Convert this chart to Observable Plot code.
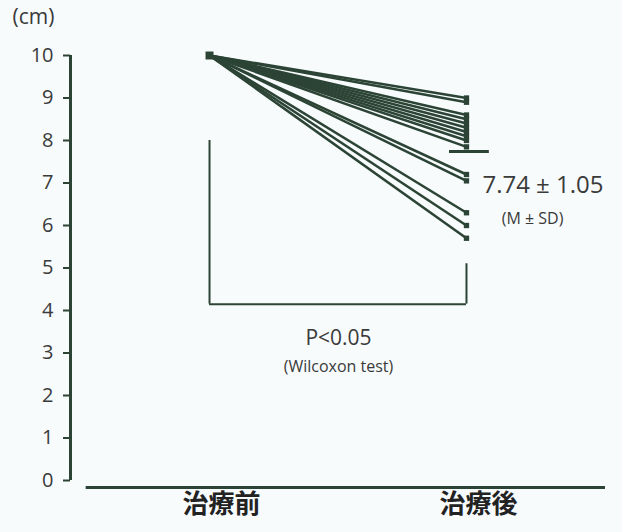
<!DOCTYPE html>
<html><head><meta charset="utf-8">
<script src="https://cdn.jsdelivr.net/npm/d3@7"></script>
<script src="https://cdn.jsdelivr.net/npm/@observablehq/plot@0.6"></script>
<style>
body{margin:0;background:#f7fbfc;}
#chart{position:relative;width:622px;height:532px;}
</style></head>
<body><div id="chart"></div>
<script>
const phases = ["治療前", "治療後"];
const before = [10,10,10,10,10,10,10,10,10,10,10,10,10,10,10];
const after = [9.0, 8.9, 8.6, 8.5, 8.4, 8.3, 8.2, 8.1, 8.0, 7.85, 7.2, 7.05, 6.3, 6.0, 5.7];
const yTicks = [0,1,2,3,4,5,6,7,8,9,10];
const meanValue = 7.74;
const sdValue = 1.05;
const pText = "P<0.05";
const testText = "(Wilcoxon test)";
const unitText = "(cm)";
const statsText = "(M ± SD)";

const pairs = after.map((a, i) => ({id: i, before: before[i], after: a}));
const ink = "#2c4435";
const textColor = "#3a3a3a";
const latin = "'Open Sans', 'Noto Sans', sans-serif";

const chart = Plot.plot({
  width: 622, height: 532,
  marginLeft: 70, marginRight: 17, marginTop: 55, marginBottom: 52,
  style: {background: "transparent", fontFamily: latin},
  x: {domain: [-0.541, 1.541], axis: null},
  y: {domain: [0, 10], ticks: yTicks},
  marks: [
    Plot.axisY({ticks: yTicks, tickSize: 7, tickPadding: 10, fontSize: 20, stroke: ink, strokeWidth: 2, color: textColor, label: null, fontFamily: latin}),
    Plot.ruleX([-0.541], {y1: 0, y2: 10, stroke: ink, strokeWidth: 3}),
    // x axis baseline
    Plot.ruleY([0], {x1: -0.48, x2: 1.541, dy: 7, stroke: ink, strokeWidth: 3}),
    // bracket
    Plot.ruleX([0], {y1: 4.15, y2: 8.0, stroke: ink, strokeWidth: 2}),
    Plot.ruleX([1], {y1: 4.15, y2: 5.1, stroke: ink, strokeWidth: 2}),
    Plot.ruleY([4.15], {x1: 0, x2: 1, stroke: ink, strokeWidth: 2}),
    // paired lines
    Plot.link(pairs, {x1: () => 0, y1: "before", x2: () => 1, y2: "after", stroke: ink, strokeWidth: 2.5}),
    Plot.dot(pairs, {x: () => 1, y: "after", symbol: "square", r: 3, fill: ink, stroke: "none"}),
    Plot.dot([before[0]], {x: () => 0, y: d => d, symbol: "square", r: 4.5, fill: ink, stroke: "none"}),
    // mean bar
    Plot.ruleY([meanValue], {x1: 0.934, x2: 1.089, stroke: ink, strokeWidth: 3}),
    // annotations
    Plot.text([`${meanValue.toFixed(2)} ± ${sdValue.toFixed(2)}`], {x: () => 1.062, y: () => 6.94, text: d => d, textAnchor: "start", fontSize: 24, fill: textColor, fontFamily: latin}),
    Plot.text([statsText], {x: () => 1.257, y: () => 6.16, text: d => d, fontSize: 16, fill: textColor, fontFamily: latin}),
    Plot.text([pText], {x: () => 0.502, y: () => 3.34, text: d => d, fontSize: 21, fill: textColor, fontFamily: latin}),
    Plot.text([testText], {x: () => 0.502, y: () => 2.68, text: d => d, fontSize: 16, fill: textColor, fontFamily: latin}),
    Plot.text(phases, {x: (d, i) => i + 0.047, y: () => -0.565, text: d => d, fontSize: 26, fontWeight: "bold", fill: "#222", fontFamily: "'Noto Sans CJK JP', sans-serif"}),
    Plot.text([unitText], {x: () => -0.541, y: () => 10, dx: -37, dy: -38, text: d => d, fontSize: 21, fill: textColor, fontFamily: latin})
  ]
});
document.getElementById("chart").appendChild(chart);
</script>
</body></html>
